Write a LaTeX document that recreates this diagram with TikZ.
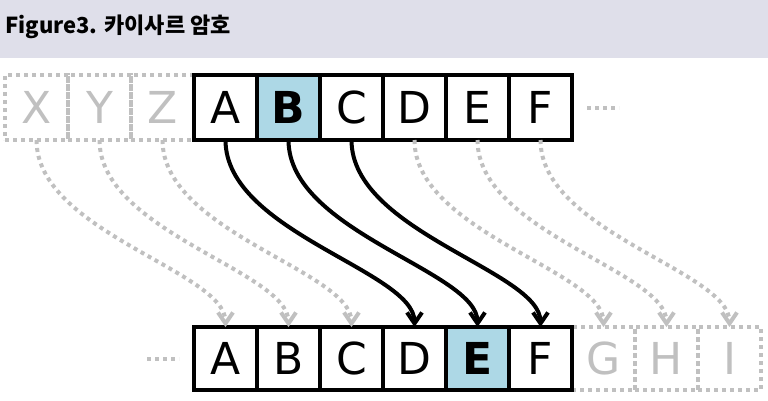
\documentclass[tikz,border=0pt]{standalone}
\usepackage{fontspec}
\newfontfamily\dejavu{DejaVu Sans}
\newfontfamily\krfont{Noto Sans CJK KR}
\usetikzlibrary{arrows.meta}
\definecolor{hdr}{RGB}{223,223,234}
\definecolor{dotgray}{RGB}{192,192,192}
\definecolor{hl}{RGB}{173,216,230}
\tikzset{
  cell/.style={draw=black, line width=4pt, fill=white, minimum width=63pt, inner sep=0pt, outer sep=0pt, font=\dejavu\fontsize{44}{44}\selectfont, text=black},
  topcell/.style={cell, minimum height=65pt},
  botcell/.style={cell, minimum height=63pt},
  ghost/.style={draw=dotgray, fill=none, text=dotgray, dash pattern=on 4pt off 4pt},
  hlcell/.style={fill=hl, font=\dejavu\bfseries\fontsize{44}{44}\selectfont},
  blackarr/.style={draw=black, line width=4pt, -{Straight Barb[length=11pt,width=15pt,line width=4pt]}},
  grayarr/.style={draw=dotgray, line width=4pt, dash pattern=on 4pt off 4pt, -{Straight Barb[length=11pt,width=15pt,line width=4pt]}},
  dotline/.style={draw=dotgray, line width=4pt, dash pattern=on 4pt off 4pt},
}
\begin{document}
\begin{tikzpicture}[x=1pt,y=-1pt]
\useasboundingbox (0,0) rectangle (768,400);
\fill[hdr] (0,0) rectangle (768,58);
\node[anchor=base west, inner sep=0pt, font=\krfont\bfseries\fontsize{22}{22}\selectfont] (title) at (5,33) {Figure3. 카이사르 암호};
% top row
\node[topcell, ghost] (tX) at (36.5,107.5) {X};
\node[topcell, ghost] (tY) at (99.5,107.5) {Y};
\node[topcell, ghost] (tZ) at (162.5,107.5) {Z};
\node[topcell] (tA) at (225.5,107.5) {A};
\node[topcell, hlcell] (tB) at (288.5,107.5) {B};
\node[topcell] (tC) at (351.5,107.5) {C};
\node[topcell] (tD) at (414.5,107.5) {D};
\node[topcell] (tE) at (477.5,107.5) {E};
\node[topcell] (tF) at (540.5,107.5) {F};
\coordinate (tdots1) at (587,108);
\coordinate (tdots2) at (619,108);
\draw[dotline] (tdots1) -- (tdots2);
% bottom row (ghost cells first so black borders stay on top)
\node[botcell, ghost] (bG) at (603.5,358.5) {G};
\node[botcell, ghost] (bH) at (666.5,358.5) {H};
\node[botcell, ghost] (bI) at (729.5,358.5) {I};
\node[botcell] (bA) at (225.5,358.5) {A};
\node[botcell] (bB) at (288.5,358.5) {B};
\node[botcell] (bC) at (351.5,358.5) {C};
\node[botcell] (bD) at (414.5,358.5) {D};
\node[botcell, hlcell] (bE) at (477.5,358.5) {E};
\node[botcell] (bF) at (540.5,358.5) {F};
\coordinate (bdots1) at (147,359);
\coordinate (bdots2) at (179,359);
\draw[dotline] (bdots1) -- (bdots2);
% connectors
\foreach \s/\t in {tX/bA, tY/bB, tZ/bC, tD/bG, tE/bH, tF/bI}
  \draw[grayarr] (\s.south) .. controls +(0,92) and +(0,-56) .. (\t.north);
\foreach \s/\t in {tA/bD, tB/bE, tC/bF}
  \draw[blackarr] (\s.south) .. controls +(0,92) and +(0,-56) .. (\t.north);
\end{tikzpicture}
\end{document}
